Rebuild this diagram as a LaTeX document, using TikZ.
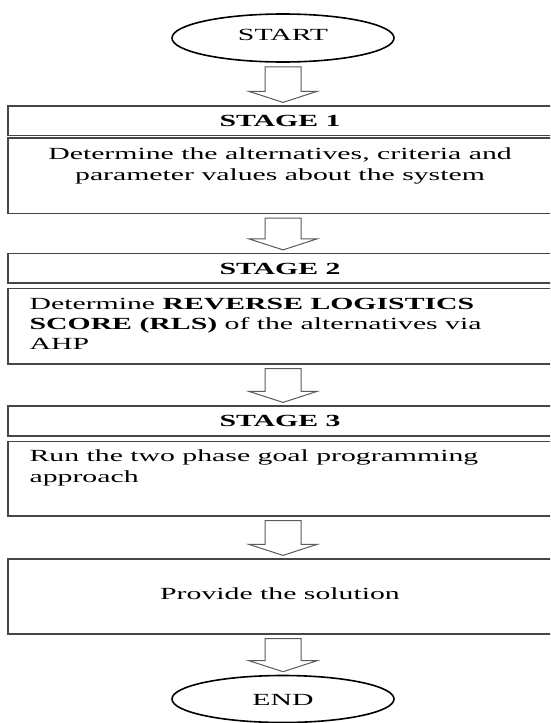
\documentclass[tikz,border=0pt]{standalone}
\usepackage{fontspec}
\setmainfont{Liberation Serif}[FakeStretch=1.75]
\usetikzlibrary{calc,shapes.geometric}
\definecolor{boxline}{RGB}{70,70,70}
\definecolor{arrline}{RGB}{90,90,90}
\newcommand\blockarrow[2]{%
  \draw[barrow] ($(#1.south)+(-18,-4)$) -- ($(#1.south |- #2.north)+(-18,14)$)
    -- ($(#1.south |- #2.north)+(-34,14)$) -- ($(#1.south |- #2.north)+(0,3)$)
    -- ($(#1.south |- #2.north)+(34,14)$) -- ($(#1.south |- #2.north)+(18,14)$)
    -- ($(#1.south)+(18,-4)$) -- cycle;}
\begin{document}
\begin{tikzpicture}[x=1pt,y=1pt,
  box/.style={draw=boxline,line width=1.2pt,rectangle,minimum width=550pt,inner sep=0pt},
  term/.style={draw=black,line width=1.6pt,ellipse,minimum width=222pt,minimum height=48pt,inner sep=0pt,
    font=\fontsize{17}{21}\selectfont},
  txt/.style={inner sep=0pt,font=\fontsize{17}{21}\selectfont},
  barrow/.style={draw=arrline,line width=1pt,fill=white,line join=miter}]
\useasboundingbox (0,0) rectangle (550,-723);
\clip (0,0) rectangle (550,-723);

% terminals
\node[term, text height=11pt, text depth=6pt] (start) at (283,-38) {START};
\node[term, text height=12pt, text depth=0pt, minimum height=47pt] (end) at (283,-699) {END};

% stage 1
\node[box,minimum height=29.5pt] (h1) at (283,-120.75) {};
\node[box,minimum height=75.5pt] (b1) at (283,-175.75) {};
% stage 2
\node[box,minimum height=29.5pt] (h2) at (283,-268.25) {};
\node[box,minimum height=75.5pt] (b2) at (283,-326.25) {};
% stage 3
\node[box,minimum height=30pt] (h3) at (283,-421) {};
\node[box,minimum height=74.5pt] (b3) at (283,-478.75) {};
% solution
\node[box,minimum height=75pt] (b4) at (283,-596.5) {};

% texts
\node[txt,anchor=base,font=\fontsize{17}{21}\selectfont\bfseries] (h1t) at ($(h1.north)+(-3,-21)$) {STAGE 1};
\node[txt,anchor=base,font=\fontsize{17}{21}\selectfont\bfseries] (h2t) at ($(h2.north)+(-3,-21.5)$) {STAGE 2};
\node[txt,anchor=base,font=\fontsize{17}{21}\selectfont\bfseries] (h3t) at ($(h3.north)+(-3,-21)$) {STAGE 3};

\node[txt,anchor=base,align=center] (b1t) at ($(b1.north)+(-3,-43)$)
  {Determine the alternatives, criteria and\\parameter values about the system};
\node[txt,anchor=base west,align=left,font=\fontsize{17}{20}\selectfont] (b2t) at ($(b2.north west)+(22,-61.5)$)
  {Determine \textbf{REVERSE LOGISTICS}\\\textbf{SCORE (RLS)} of the alternatives via\\AHP};
\node[txt,anchor=base west,align=left] (b3t) at ($(b3.north west)+(22,-41.5)$)
  {Run the two phase goal programming\\approach};
\node[txt,anchor=base] (b4t) at ($(b4.north)+(-3,-41)$) {Provide the solution};

% block arrows
\blockarrow{start}{h1}
\blockarrow{b1}{h2}
\blockarrow{b2}{h3}
\blockarrow{b3}{b4}
\blockarrow{b4}{end}
\end{tikzpicture}
\end{document}
